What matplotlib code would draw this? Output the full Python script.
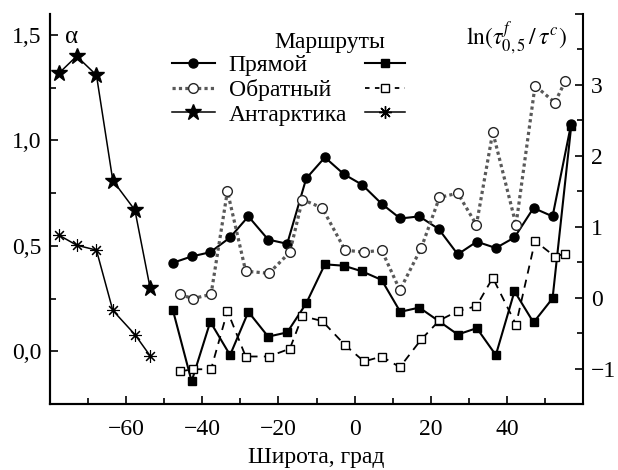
import matplotlib
matplotlib.use('Agg')
import matplotlib.pyplot as plt
from matplotlib.lines import Line2D
from matplotlib.ticker import MultipleLocator, FuncFormatter

plt.rcParams.update({'font.family': 'Liberation Serif', 'font.size': 17,
                     'mathtext.fontset': 'stix'})

# latitude of the route bins
lat_direct = [-47.7, -42.8, -37.9, -32.7, -27.9, -22.7, -17.7, -12.7, -7.8, -2.8, 2.0,
              7.1, 12.0, 17.0, 22.1, 27.1, 32.1, 37.1, 42.0, 47.0, 52.0, 56.9]
lat_reverse = [-45.9, -42.5, -37.7, -33.4, -28.6, -22.5, -17.0, -13.7, -8.5, -2.5, 2.5,
               7.1, 11.9, 17.5, 22.3, 27.1, 32.0, 36.3, 42.4, 47.4, 52.6, 55.3]
lat_antarctic = [-77.6, -73.0, -67.8, -63.5, -57.7, -53.7]

# alpha (left axis)
alpha_direct = [0.42, 0.45, 0.47, 0.54, 0.64, 0.53, 0.51, 0.82, 0.92, 0.84, 0.79,
                0.70, 0.63, 0.64, 0.58, 0.46, 0.52, 0.49, 0.54, 0.68, 0.64, 1.08]
alpha_reverse = [0.27, 0.25, 0.27, 0.76, 0.38, 0.37, 0.47, 0.72, 0.68, 0.48, 0.47,
                 0.48, 0.29, 0.49, 0.73, 0.75, 0.60, 1.04, 0.60, 1.26, 1.18, 1.28]
alpha_antarctic = [1.32, 1.40, 1.31, 0.81, 0.67, 0.30]

# ln(tau_f / tau_c) (right axis)
ln_direct = [-0.18, -1.18, -0.34, -0.81, -0.20, -0.55, -0.49, -0.08, 0.47, 0.45, 0.37,
             0.25, -0.20, -0.14, -0.33, -0.52, -0.43, -0.81, 0.09, -0.35, -0.01, 2.42]
ln_reverse = [-1.04, -1.01, -1.01, -0.19, -0.83, -0.83, -0.72, -0.26, -0.33, -0.67, -0.90,
              -0.83, -0.98, -0.59, -0.32, -0.19, -0.12, 0.28, -0.38, 0.80, 0.58, 0.62]
ln_antarctic = [0.88, 0.74, 0.67, -0.18, -0.52, -0.82]

route_labels = ['Прямой', 'Обратный', 'Антарктика']

fig = plt.figure(figsize=(6.18, 4.70), dpi=100)
ax = fig.add_axes([0.0809, 0.1404, 0.8625, 0.8298])
ax2 = ax.twinx()

# left axis series
ax.plot(lat_direct, alpha_direct, '-', color='black', lw=1.5,
        marker='o', ms=6.5, mfc='black', mec='black', zorder=3)
ax.plot(lat_reverse, alpha_reverse, color='0.35', lw=2.3, ls=(0, (1, 1)),
        marker='o', ms=7, mfc='white', mec='0.15', mew=1.0, zorder=3)
ax.plot(lat_antarctic, alpha_antarctic, '-', color='black', lw=1.1,
        marker='*', ms=12, mfc='black', mec='black', zorder=3)

# right axis series
ax2.plot(lat_direct, ln_direct, '-', color='black', lw=1.5,
         marker='s', ms=5.5, mfc='black', mec='black', zorder=3)
ax2.plot(lat_reverse, ln_reverse, color='black', lw=1.3, ls=(0, (4.5, 3.5)),
         marker='s', ms=5.5, mfc='white', mec='black', mew=1.0, zorder=3)
ax2.plot(lat_antarctic, ln_antarctic, '-', color='black', lw=1.1,
         marker=(8, 2, 0), ms=9, mec='black', mew=0.8, zorder=3)

ax.set_xlim(-80, 60)
ax.set_ylim(-0.25, 1.6)
ax2.set_ylim(-1.5, 4.0)

for a in (ax, ax2):
    a.spines['top'].set_visible(False)
    for s in a.spines.values():
        s.set_linewidth(1.5)
    a.tick_params(which='both', direction='in', width=1.2, pad=6)
    a.tick_params(which='major', length=6)
    a.tick_params(which='minor', length=4)
ax.spines['right'].set_visible(False)
ax.tick_params(axis='x', pad=11)

ax.xaxis.set_major_locator(MultipleLocator(20))
ax.xaxis.set_minor_locator(MultipleLocator(10))
ax.yaxis.set_major_locator(MultipleLocator(0.5))
ax.yaxis.set_minor_locator(MultipleLocator(0.25))
ax2.yaxis.set_major_locator(MultipleLocator(1))
ax2.yaxis.set_minor_locator(MultipleLocator(0.5))

ax.xaxis.set_major_formatter(FuncFormatter(
    lambda v, p: '' if v in (-80, 60) else f'{v:g}'.replace('-', '\u2212')))
ax.yaxis.set_major_formatter(FuncFormatter(lambda v, p: f'{v:.1f}'.replace('.', ',')))
ax2.yaxis.set_major_formatter(FuncFormatter(
    lambda v, p: '' if v >= 4 else f'{v:g}'.replace('-', '\u2212')))

ax.set_xlabel('Широта, град', va='center')
ax.xaxis.set_label_coords(0.5, -0.137)
ax.text(0.028, 0.94, 'α', transform=ax.transAxes, ha='left', va='center', fontsize=18)
ax2.text(0.97, 0.94, r'$\mathrm{ln}(\tau^{f}_{0,5}\,/\,\tau^{c})$', transform=ax.transAxes,
         ha='right', va='center', fontsize=17)

# legend: left markers for alpha, right markers for ln
left_handles = [
    Line2D([], [], color='black', lw=1.5, marker='o', ms=6.5),
    Line2D([], [], color='0.35', lw=2.3, ls=(0, (1, 1)), marker='o', ms=7,
           mfc='white', mec='0.15'),
    Line2D([], [], color='black', lw=1.1, marker='*', ms=12),
]
right_handles = [
    Line2D([], [], color='black', lw=1.5, marker='s', ms=5.5),
    Line2D([], [], color='black', lw=1.3, ls=(0, (2.5, 3)), marker='s', ms=5.5,
           mfc='white'),
    Line2D([], [], color='black', lw=1.1, marker=(8, 2, 0), ms=9),
]
leg1 = ax2.legend(left_handles, route_labels, loc='upper left',
                  bbox_to_anchor=(0.229, 0.895), frameon=False, borderpad=0,
                  borderaxespad=0, handlelength=1.8, handletextpad=0.6,
                  labelspacing=0.12, fontsize=17)
ax2.add_artist(leg1)
ax2.legend(right_handles, ['', '', ''], loc='upper left',
           bbox_to_anchor=(0.591, 0.895), frameon=False, borderpad=0,
           borderaxespad=0, handlelength=1.7, handletextpad=0,
           labelspacing=0.12, fontsize=17)
ax.text(0.525, 0.926, 'Маршруты', transform=ax.transAxes, ha='center', va='center',
        fontsize=17)

fig.savefig('out.png', dpi=100)
